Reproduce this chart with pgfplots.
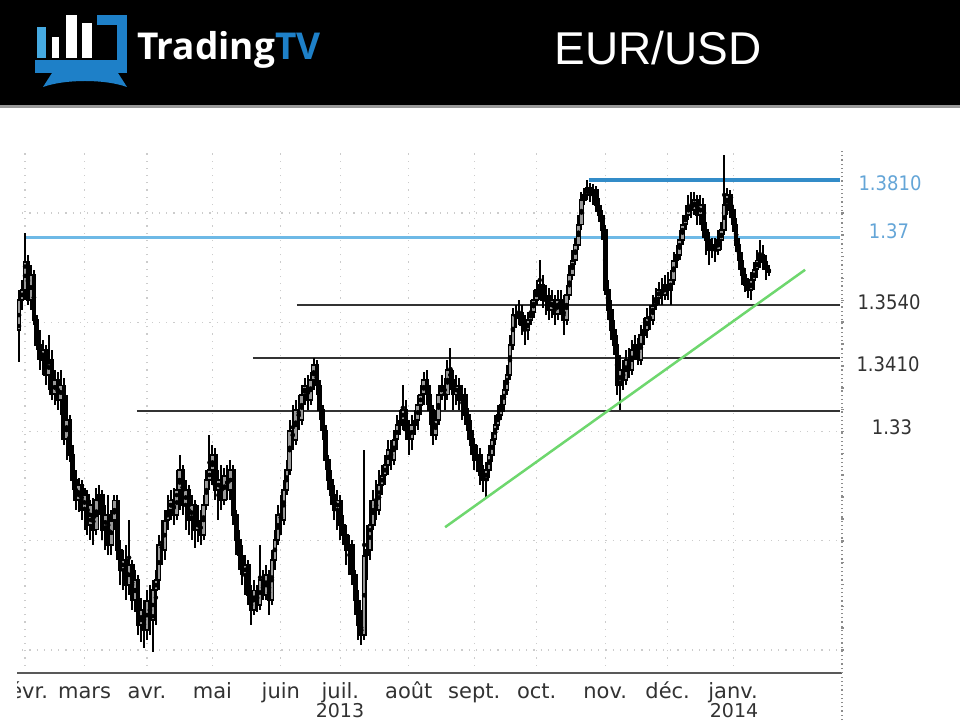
\documentclass[border=0pt]{standalone}
\usepackage{fontspec}
\setmainfont{DejaVu Sans}
\newfontfamily\lib{Liberation Sans}
\newfontfamily\opens{Open Sans}
\newfontfamily\dvc[FakeStretch=0.9]{DejaVu Sans}
\usepackage{pgfplots}
\usepackage{pgfplotstable}
\usetikzlibrary{calc}
\pgfplotsset{compat=1.18}
\definecolor{logoblue}{RGB}{30,128,200}
\definecolor{logocyan}{RGB}{70,170,225}
\definecolor{lineblue}{RGB}{50,140,200}
\definecolor{lightblue}{RGB}{110,185,230}
\definecolor{labelblue}{RGB}{100,165,215}
\definecolor{trendgreen}{RGB}{110,215,110}
\definecolor{lbl}{RGB}{50,50,50}
\pgfplotstableread{
x o h l c
-2 1.3482 1.3574 1.3409 1.3551
-1 1.3551 1.3597 1.3528 1.3574
0 1.3574 1.3704 1.3551 1.3638
1 1.3638 1.3654 1.3539 1.3551
2 1.3551 1.3631 1.3528 1.3608
3 1.3608 1.3620 1.3494 1.3505
4 1.3505 1.3517 1.3437 1.3448
5 1.3448 1.3482 1.3391 1.3414
6 1.3414 1.3459 1.3379 1.3437
7 1.3437 1.3448 1.3356 1.3379
8 1.3379 1.3471 1.3345 1.3414
9 1.3414 1.3437 1.3322 1.3334
10 1.3334 1.3391 1.3311 1.3368
11 1.3368 1.3386 1.3299 1.3322
12 1.3322 1.3391 1.3288 1.3356
13 1.3356 1.3372 1.3219 1.3231
14 1.3231 1.3334 1.3185 1.3276
15 1.3276 1.3288 1.3180 1.3196
16 1.3196 1.3219 1.3116 1.3139
17 1.3139 1.3162 1.3070 1.3093
18 1.3093 1.3144 1.3066 1.3128
19 1.3128 1.3139 1.3047 1.3070
20 1.3070 1.3121 1.3025 1.3105
21 1.3105 1.3116 1.3013 1.3036
22 1.3036 1.3093 1.3002 1.3082
23 1.3082 1.3098 1.2990 1.3025
24 1.3025 1.3121 1.3013 1.3093
25 1.3093 1.3128 1.3059 1.3105
26 1.3105 1.3116 1.3002 1.3025
27 1.3025 1.3082 1.2979 1.3059
28 1.3059 1.3105 1.2967 1.2990
29 1.2990 1.3070 1.2967 1.3047
30 1.3047 1.3105 1.3025 1.3093
31 1.3093 1.3105 1.2956 1.2979
32 1.2979 1.3002 1.2899 1.2933
33 1.2933 1.2979 1.2887 1.2956
34 1.2956 1.2990 1.2864 1.2899
35 1.2899 1.3047 1.2876 1.2945
36 1.2945 1.2956 1.2842 1.2864
37 1.2864 1.2933 1.2837 1.2910
38 1.2910 1.2922 1.2784 1.2807
39 1.2807 1.2869 1.2768 1.2842
40 1.2842 1.2864 1.2754 1.2796
41 1.2796 1.2887 1.2773 1.2864
42 1.2864 1.2899 1.2784 1.2819
43 1.2819 1.2910 1.2745 1.2887
44 1.2887 1.2933 1.2807 1.2910
45 1.2910 1.3013 1.2887 1.2990
46 1.2990 1.3047 1.2945 1.2979
47 1.2979 1.3070 1.2956 1.3047
48 1.3047 1.3105 1.3025 1.3070
49 1.3070 1.3116 1.3047 1.3093
50 1.3093 1.3121 1.3036 1.3059
51 1.3059 1.3162 1.3047 1.3116
52 1.3116 1.3196 1.3070 1.3162
53 1.3162 1.3173 1.3059 1.3082
54 1.3082 1.3139 1.3025 1.3116
55 1.3116 1.3128 1.3013 1.3047
56 1.3047 1.3105 1.3002 1.3082
57 1.3082 1.3093 1.2983 1.3025
58 1.3025 1.3082 1.2997 1.3047
59 1.3047 1.3070 1.2990 1.3013
60 1.3013 1.3105 1.3002 1.3082
61 1.3082 1.3162 1.3070 1.3139
62 1.3139 1.3242 1.3116 1.3162
63 1.3162 1.3219 1.3128 1.3196
64 1.3196 1.3212 1.3093 1.3116
65 1.3116 1.3162 1.3047 1.3139
66 1.3139 1.3173 1.3070 1.3093
67 1.3093 1.3166 1.3082 1.3150
68 1.3150 1.3173 1.3093 1.3116
69 1.3116 1.3185 1.3093 1.3162
70 1.3162 1.3173 1.3036 1.3059
71 1.3059 1.3070 1.2967 1.3002
72 1.3002 1.3025 1.2933 1.2967
73 1.2967 1.2990 1.2899 1.2922
74 1.2922 1.2967 1.2876 1.2945
75 1.2945 1.2956 1.2853 1.2876
76 1.2876 1.2899 1.2807 1.2842
77 1.2842 1.2910 1.2830 1.2887
78 1.2887 1.2899 1.2837 1.2853
79 1.2853 1.2990 1.2842 1.2910
80 1.2910 1.2933 1.2864 1.2876
81 1.2876 1.2945 1.2864 1.2922
82 1.2922 1.2933 1.2830 1.2864
83 1.2864 1.2979 1.2853 1.2956
84 1.2956 1.3025 1.2933 1.3002
85 1.3002 1.3082 1.2990 1.3059
86 1.3059 1.3105 1.3013 1.3047
87 1.3047 1.3139 1.3036 1.3116
88 1.3116 1.3185 1.3105 1.3162
89 1.3162 1.3276 1.3150 1.3253
90 1.3253 1.3311 1.3208 1.3231
91 1.3231 1.3322 1.3219 1.3299
92 1.3299 1.3334 1.3253 1.3276
93 1.3276 1.3356 1.3265 1.3334
94 1.3334 1.3372 1.3311 1.3356
95 1.3356 1.3379 1.3299 1.3322
96 1.3322 1.3386 1.3311 1.3368
97 1.3368 1.3418 1.3345 1.3402
98 1.3402 1.3414 1.3334 1.3356
99 1.3356 1.3368 1.3276 1.3299
100 1.3299 1.3311 1.3231 1.3253
101 1.3253 1.3265 1.3162 1.3185
102 1.3185 1.3196 1.3116 1.3139
103 1.3139 1.3162 1.3082 1.3105
104 1.3105 1.3128 1.3047 1.3070
105 1.3070 1.3116 1.3025 1.3093
106 1.3093 1.3105 1.3002 1.3036
107 1.3036 1.3059 1.2990 1.3013
108 1.3013 1.3036 1.2945 1.2979
109 1.2979 1.3013 1.2922 1.2990
110 1.2990 1.3002 1.2899 1.2922
111 1.2922 1.2933 1.2830 1.2864
112 1.2864 1.2887 1.2773 1.2807
113 1.2807 1.2842 1.2761 1.2784
114 1.2784 1.3208 1.2773 1.2967
115 1.2967 1.3036 1.2910 1.2979
116 1.2979 1.3093 1.2956 1.3036
117 1.3036 1.3116 1.3025 1.3093
118 1.3093 1.3139 1.3047 1.3070
119 1.3070 1.3162 1.3059 1.3128
120 1.3128 1.3173 1.3105 1.3150
121 1.3150 1.3196 1.3128 1.3173
122 1.3173 1.3231 1.3150 1.3208
123 1.3208 1.3231 1.3162 1.3185
124 1.3185 1.3253 1.3173 1.3231
125 1.3231 1.3288 1.3208 1.3265
126 1.3265 1.3299 1.3242 1.3276
127 1.3276 1.3356 1.3253 1.3299
128 1.3299 1.3322 1.3231 1.3253
129 1.3253 1.3276 1.3196 1.3231
130 1.3231 1.3288 1.3208 1.3265
131 1.3265 1.3299 1.3242 1.3276
132 1.3276 1.3334 1.3253 1.3311
133 1.3311 1.3356 1.3288 1.3334
134 1.3334 1.3386 1.3311 1.3368
135 1.3368 1.3391 1.3311 1.3334
136 1.3334 1.3356 1.3265 1.3299
137 1.3299 1.3311 1.3219 1.3242
138 1.3242 1.3299 1.3231 1.3276
139 1.3276 1.3356 1.3265 1.3334
140 1.3334 1.3379 1.3322 1.3356
141 1.3356 1.3372 1.3299 1.3334
142 1.3334 1.3414 1.3322 1.3391
143 1.3391 1.3441 1.3345 1.3368
144 1.3368 1.3391 1.3299 1.3334
145 1.3334 1.3379 1.3311 1.3356
146 1.3356 1.3372 1.3299 1.3322
147 1.3322 1.3356 1.3276 1.3334
148 1.3334 1.3350 1.3265 1.3288
149 1.3288 1.3304 1.3231 1.3253
150 1.3253 1.3276 1.3196 1.3219
151 1.3219 1.3235 1.3162 1.3185
152 1.3185 1.3219 1.3157 1.3196
153 1.3196 1.3212 1.3128 1.3150
154 1.3150 1.3173 1.3112 1.3139
155 1.3139 1.3180 1.3100 1.3162
156 1.3162 1.3219 1.3144 1.3196
157 1.3196 1.3249 1.3180 1.3231
158 1.3231 1.3288 1.3219 1.3265
159 1.3265 1.3311 1.3253 1.3288
160 1.3288 1.3334 1.3276 1.3311
161 1.3311 1.3368 1.3295 1.3345
162 1.3345 1.3402 1.3334 1.3379
163 1.3379 1.3471 1.3368 1.3448
164 1.3448 1.3533 1.3437 1.3517
165 1.3517 1.3539 1.3487 1.3510
166 1.3510 1.3551 1.3494 1.3523
167 1.3523 1.3539 1.3471 1.3494
168 1.3494 1.3517 1.3448 1.3482
169 1.3482 1.3523 1.3459 1.3505
170 1.3505 1.3551 1.3494 1.3523
171 1.3523 1.3574 1.3510 1.3551
172 1.3551 1.3597 1.3539 1.3574
173 1.3574 1.3642 1.3551 1.3585
174 1.3585 1.3608 1.3533 1.3551
175 1.3551 1.3585 1.3517 1.3562
176 1.3562 1.3578 1.3505 1.3528
177 1.3528 1.3574 1.3510 1.3551
178 1.3551 1.3562 1.3494 1.3517
179 1.3517 1.3574 1.3505 1.3551
180 1.3551 1.3574 1.3517 1.3539
181 1.3539 1.3562 1.3471 1.3505
182 1.3505 1.3585 1.3494 1.3562
183 1.3562 1.3631 1.3551 1.3608
184 1.3608 1.3665 1.3597 1.3642
185 1.3642 1.3693 1.3631 1.3677
186 1.3677 1.3745 1.3665 1.3723
187 1.3723 1.3798 1.3711 1.3780
188 1.3780 1.3807 1.3768 1.3791
189 1.3791 1.3826 1.3780 1.3807
190 1.3807 1.3819 1.3775 1.3791
191 1.3791 1.3816 1.3768 1.3803
192 1.3803 1.3812 1.3752 1.3768
193 1.3768 1.3784 1.3729 1.3745
194 1.3745 1.3757 1.3688 1.3711
195 1.3711 1.3723 1.3562 1.3574
196 1.3574 1.3597 1.3505 1.3528
197 1.3528 1.3551 1.3459 1.3482
198 1.3482 1.3505 1.3425 1.3448
199 1.3448 1.3471 1.3334 1.3356
200 1.3356 1.3425 1.3299 1.3391
201 1.3391 1.3414 1.3345 1.3368
202 1.3368 1.3437 1.3356 1.3414
203 1.3414 1.3441 1.3372 1.3391
204 1.3391 1.3459 1.3379 1.3437
205 1.3437 1.3471 1.3414 1.3448
206 1.3448 1.3464 1.3402 1.3414
207 1.3414 1.3494 1.3402 1.3471
208 1.3471 1.3510 1.3448 1.3482
209 1.3482 1.3533 1.3464 1.3510
210 1.3510 1.3539 1.3482 1.3505
211 1.3505 1.3562 1.3494 1.3539
212 1.3539 1.3578 1.3528 1.3555
213 1.3555 1.3592 1.3539 1.3574
214 1.3574 1.3601 1.3539 1.3562
215 1.3562 1.3608 1.3551 1.3585
216 1.3585 1.3615 1.3551 1.3574
217 1.3574 1.3620 1.3539 1.3597
218 1.3597 1.3661 1.3585 1.3642
219 1.3642 1.3677 1.3624 1.3654
220 1.3654 1.3711 1.3642 1.3688
221 1.3688 1.3745 1.3677 1.3723
222 1.3723 1.3768 1.3711 1.3745
223 1.3745 1.3791 1.3734 1.3768
224 1.3768 1.3798 1.3739 1.3757
225 1.3757 1.3798 1.3745 1.3780
226 1.3780 1.3791 1.3723 1.3745
227 1.3745 1.3791 1.3723 1.3768
228 1.3768 1.3784 1.3693 1.3711
229 1.3711 1.3729 1.3654 1.3688
230 1.3688 1.3707 1.3631 1.3665
231 1.3665 1.3693 1.3647 1.3677
232 1.3677 1.3693 1.3638 1.3665
233 1.3665 1.3711 1.3654 1.3688
234 1.3688 1.3729 1.3665 1.3711
235 1.3711 1.3883 1.3700 1.3768
236 1.3768 1.3807 1.3745 1.3791
237 1.3791 1.3803 1.3739 1.3757
238 1.3757 1.3768 1.3707 1.3723
239 1.3723 1.3739 1.3661 1.3677
240 1.3677 1.3693 1.3620 1.3642
241 1.3642 1.3661 1.3585 1.3608
242 1.3608 1.3624 1.3569 1.3585
243 1.3585 1.3601 1.3555 1.3574
244 1.3574 1.3615 1.3551 1.3597
245 1.3597 1.3638 1.3574 1.3620
246 1.3620 1.3665 1.3601 1.3642
247 1.3642 1.3688 1.3624 1.3654
248 1.3654 1.3677 1.3620 1.3638
249 1.3638 1.3654 1.3597 1.3620
250 1.3620 1.3631 1.3606 1.3615
}\candles
\begin{document}
\begin{tikzpicture}[x=1pt,y=1pt]
\begin{axis}[
  at={(15pt,47pt)}, anchor=south west,
  scale only axis, width=827pt, height=525pt,
  xmin=-3.36, xmax=274.6,
  ymin=1.26974, ymax=1.38987,
  axis x line*=bottom, axis y line*=right,
  x axis line style={draw=black!65, line width=2.5pt},
  y axis line style={draw=black!45, line width=1.2pt, dash pattern=on 1.2pt off 3pt},
  xtick={0,20,41,63,86,106,129,151,172,195,216,238},
  xticklabels={févr.,mars,avr.,mai,juin,juil.,août,sept.,oct.,nov.,déc.,janv.},
  x tick style={draw=none},
  xticklabel style={font=\fontsize{21}{24}\selectfont, text=lbl, anchor=base, inner sep=0pt, yshift=-24pt},
  ytick={1.275,1.3,1.325,1.35,1.375},
  yticklabels={},
  minor y tick num=4,
  y tick style={draw=black!45, line width=1.6pt},
  major tick length=3pt, minor tick length=3pt,
  tick align=center,
  xmajorgrids, ymajorgrids,
  grid style={draw=black!20, line width=1.2pt, dash pattern=on 1.2pt off 6pt},
]
\coordinate (SW) at (rel axis cs:0,0);
% support / resistance lines
\addplot[lightblue, line width=3pt] coordinates {(0,1.3695) (273.9,1.3695)};
\addplot[lineblue, line width=4pt] coordinates {(189.5,1.3826) (273.9,1.3826)};
\addplot[black!80, line width=2pt] coordinates {(91.4,1.3539) (273.9,1.3539)};
\addplot[black!80, line width=2pt] coordinates {(76.6,1.3418) (273.9,1.3418)};
\addplot[black!80, line width=2pt] coordinates {(37.6,1.3297) (273.9,1.3297)};
% wicks
\addplot[only marks, mark=none, error bars/.cd, y dir=both, y explicit, error mark=none,
  error bar style={draw=black, line width=2pt}]
  table[x=x, y expr={(\thisrow{h}+\thisrow{l})/2},
        y error plus expr={(\thisrow{h}-\thisrow{l})/2},
        y error minus expr={(\thisrow{h}-\thisrow{l})/2}] {\candles};
% bodies
\addplot[only marks, mark=none, error bars/.cd, y dir=both, y explicit, error mark=none,
  error bar style={draw=black, line width=4.8pt}]
  table[x=x, y expr={(\thisrow{o}+\thisrow{c})/2},
        y error plus expr={abs(\thisrow{c}-\thisrow{o})/2+0.00015},
        y error minus expr={abs(\thisrow{c}-\thisrow{o})/2+0.00015}] {\candles};
% hollow (rising) bodies
\addplot[only marks, mark=none, error bars/.cd, y dir=both, y explicit, error mark=none,
  error bar style={draw=black!40, line width=2.6pt}]
  table[x=x, y expr={(\thisrow{o}+\thisrow{c})/2},
        y error plus expr={max((\thisrow{c}-\thisrow{o})/2-0.0003,0)},
        y error minus expr={max((\thisrow{c}-\thisrow{o})/2-0.0003,0)}] {\candles};
% trend line
\addplot[trendgreen, line width=2.5pt] coordinates {(141.2,1.3031) (262.2,1.3620)};
\end{axis}
\begin{scope}[shift={($(SW)-(15,47)$)}]
\useasboundingbox (0,0) rectangle (960,720);
\fill[white] (0,0) rectangle (16.5,612);
\node[font=\fontsize{19}{21}\selectfont, text=lbl, anchor=base, inner sep=0pt] at (340,3) {2013};
\node[font=\fontsize{19}{21}\selectfont, text=lbl, anchor=base, inner sep=0pt] at (734,3) {2014};
\draw[black!45, line width=1.2pt, dash pattern=on 1.2pt off 3pt] (842,0) -- (842,46);
% right labels
\node[font=\dvc\fontsize{20}{22}\selectfont, text=labelblue] at (890,537) {1.3810};
\node[font=\dvc\fontsize{20}{22}\selectfont, text=labelblue] at (889,489) {1.37};
\node[font=\dvc\fontsize{20}{22}\selectfont, text=lbl] at (889,418) {1.3540};
\node[font=\dvc\fontsize{20}{22}\selectfont, text=lbl] at (888,356) {1.3410};
\node[font=\dvc\fontsize{20}{22}\selectfont, text=lbl] at (892,293) {1.33};
% header
\fill[black] (0,615) rectangle (960,720);
\fill[black!40] (0,612) rectangle (960,615);
% logo
\fill[logoblue] (35,647) rectangle (127,660);
\fill[logoblue] (117,647) rectangle (127,705);
\fill[logoblue] (97,695) rectangle (127,705);
\fill[logocyan] (37,662) rectangle (46,693);
\fill[white] (52,662) rectangle (59,683);
\fill[white] (66,662) rectangle (77,705);
\fill[white] (82,662) rectangle (92,697);
\fill[logoblue] (43,633) -- (52,647) -- (118,647) -- (127,633) .. controls (105,641) and (65,641) .. cycle;
\node[anchor=base west, inner sep=0, text=white] at (137,660)
  {\opens\bfseries\fontsize{37}{40}\selectfont Trading\textcolor{logoblue}{TV}};
\node[anchor=base, inner sep=0, text=white] at (658,655)
  {\lib\fontsize{46}{50}\selectfont EUR/USD};
\end{scope}
\end{tikzpicture}
\end{document}
